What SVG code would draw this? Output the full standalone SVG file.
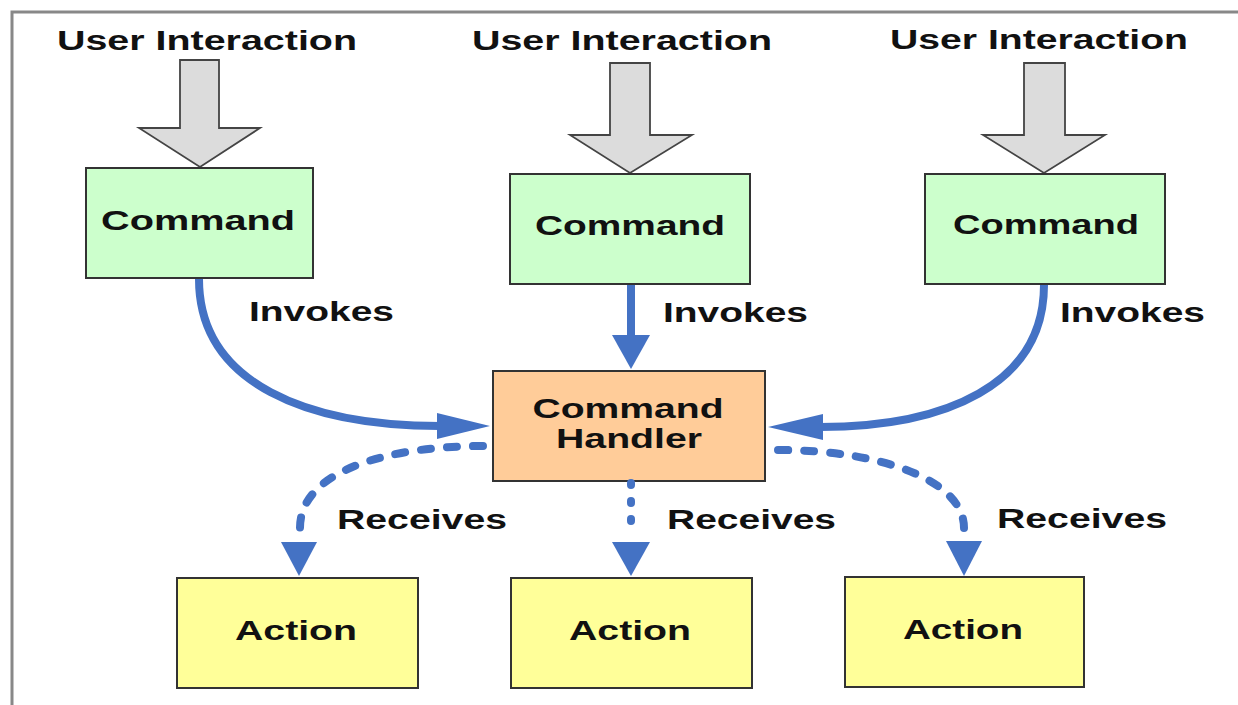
<svg xmlns="http://www.w3.org/2000/svg" width="1238" height="705" viewBox="0 0 1238 705">
<style>
  .lbl { font-family: "Liberation Sans", Arial, sans-serif; font-weight: bold; font-size: 28px; fill: #111; }
  .cmd { fill: #ccffcc; stroke: #333; stroke-width: 2; }
  .hdl { fill: #ffcc99; stroke: #333; stroke-width: 2; }
  .act { fill: #ffff99; stroke: #333; stroke-width: 2; }
  .ui { fill: #dcdcdc; stroke: #444; stroke-width: 1.8; }
  .line { fill: none; stroke: #4472c4; stroke-width: 8; }
  .dash { fill: none; stroke: #4472c4; stroke-width: 8; stroke-linecap: round; stroke-dasharray: 10 16; }
  .dots { fill: none; stroke: #4472c4; stroke-width: 8; stroke-linecap: round; stroke-dasharray: 2 16; }
  .head { fill: #4472c4; }
  .frame { fill: none; stroke: #888; stroke-width: 3; }
</style>
<rect x="0" y="0" width="1238" height="705" fill="#ffffff"/>
<path class="frame" d="M12,705 L12,12 L1238,12"/>

<g id="ui-left">
  <text class="lbl" x="207" y="50" text-anchor="middle" textLength="300" lengthAdjust="spacingAndGlyphs">User Interaction</text>
  <polygon class="ui" points="180,60 219,60 219,128 260,128 200,167 139,128 180,128"/>
</g>
<g id="ui-mid">
  <text class="lbl" x="622" y="50" text-anchor="middle" textLength="300" lengthAdjust="spacingAndGlyphs">User Interaction</text>
  <polygon class="ui" points="610,63 650,63 650,135 692,135 630,173 570,135 610,135"/>
</g>
<g id="ui-right">
  <text class="lbl" x="1039" y="49" text-anchor="middle" textLength="298" lengthAdjust="spacingAndGlyphs">User Interaction</text>
  <polygon class="ui" points="1024,63 1065,63 1065,135 1105,135 1044,173 983,135 1024,135"/>
</g>

<g id="command-left">
  <rect class="cmd" x="86" y="168" width="227" height="110"/>
  <text class="lbl" x="198" y="230" text-anchor="middle" textLength="194" lengthAdjust="spacingAndGlyphs">Command</text>
</g>
<g id="command-mid">
  <rect class="cmd" x="510" y="174" width="240" height="110"/>
  <text class="lbl" x="630" y="235" text-anchor="middle" textLength="190" lengthAdjust="spacingAndGlyphs">Command</text>
</g>
<g id="command-right">
  <rect class="cmd" x="925" y="174" width="240" height="110"/>
  <text class="lbl" x="1046" y="234" text-anchor="middle" textLength="186" lengthAdjust="spacingAndGlyphs">Command</text>
</g>

<g id="command-handler">
  <rect class="hdl" x="493" y="371" width="272" height="110"/>
  <text class="lbl" x="628" y="418" text-anchor="middle" textLength="191" lengthAdjust="spacingAndGlyphs">Command</text>
  <text class="lbl" x="629" y="448" text-anchor="middle" textLength="146" lengthAdjust="spacingAndGlyphs">Handler</text>
</g>

<g id="action-left">
  <rect class="act" x="177" y="578" width="241" height="110"/>
  <text class="lbl" x="296" y="640" text-anchor="middle" textLength="122" lengthAdjust="spacingAndGlyphs">Action</text>
</g>
<g id="action-mid">
  <rect class="act" x="511" y="578" width="241" height="110"/>
  <text class="lbl" x="630" y="640" text-anchor="middle" textLength="122" lengthAdjust="spacingAndGlyphs">Action</text>
</g>
<g id="action-right">
  <rect class="act" x="845" y="577" width="239" height="110"/>
  <text class="lbl" x="963" y="639" text-anchor="middle" textLength="120" lengthAdjust="spacingAndGlyphs">Action</text>
</g>

<g id="connectors">
  <path class="line" d="M199,279 C199,385 310,426 440,426"/>
  <polygon class="head" points="437,413 490,426 437,439"/>
  <path class="line" d="M631,285 L631,338"/>
  <polygon class="head" points="612,335 650,335 631,369"/>
  <path class="line" d="M1044,285 C1044,385 945,427 820,427"/>
  <polygon class="head" points="823,414 768,427 823,440"/>

  <path class="dash" d="M483,446 C390,446 300,470 300,528"/>
  <polygon class="head" points="281,542 317,542 299,576"/>
  <path class="dots" d="M631,483 L631,530"/>
  <polygon class="head" points="612,542 650,542 631,576"/>
  <path class="dash" d="M778,450 C880,450 964,480 964,528"/>
  <polygon class="head" points="946,541 982,541 964,576"/>

  <text class="lbl" x="249" y="321" textLength="145" lengthAdjust="spacingAndGlyphs">Invokes</text>
  <text class="lbl" x="663" y="322" textLength="145" lengthAdjust="spacingAndGlyphs">Invokes</text>
  <text class="lbl" x="1060" y="322" textLength="145" lengthAdjust="spacingAndGlyphs">Invokes</text>
  <text class="lbl" x="337" y="529" textLength="170" lengthAdjust="spacingAndGlyphs">Receives</text>
  <text class="lbl" x="667" y="529" textLength="169" lengthAdjust="spacingAndGlyphs">Receives</text>
  <text class="lbl" x="997" y="528" textLength="170" lengthAdjust="spacingAndGlyphs">Receives</text>
</g>
</svg>
